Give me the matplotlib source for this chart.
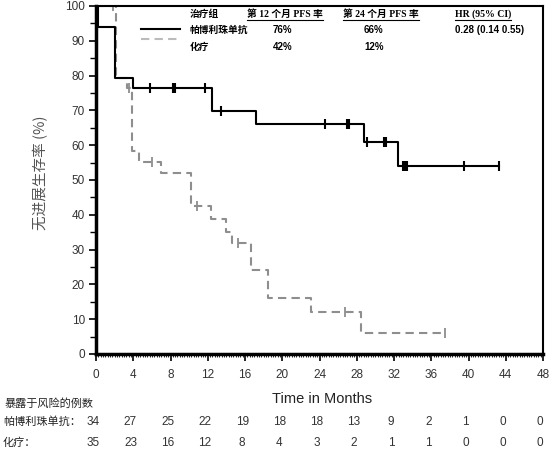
import numpy as np
import matplotlib
matplotlib.use('Agg')
import matplotlib.pyplot as plt

plt.rcParams['font.family'] = ['Liberation Sans', 'Noto Sans CJK SC']

# KM curves (months, PFS %)
pem_t = [0, 0.25, 2.0, 4.0, 12.5, 17.2, 28.8, 32.4, 43.3]
pem_s = [100, 94.1, 79.4, 76.5, 69.9, 66.0, 60.8, 54.1, 54.1]
pem_cens = [5.75, 8.3, 8.5, 11.7, 13.4, 24.6, 26.9, 27.2, 29.1, 30.9, 31.1,
            33.0, 33.2, 33.4, 39.5, 43.3]

chemo_t = [0, 2.15, 3.3, 3.9, 4.6, 7.0, 10.2, 12.3, 14.0, 14.6, 16.6, 18.5,
           23.1, 28.5, 37.5]
chemo_s = [100, 79.4, 76.3, 58.3, 55.3, 51.9, 42.4, 38.9, 35.2, 31.9, 24.0,
           16.0, 12.0, 6.0, 6.0]
chemo_cens = [1.8, 3.5, 6.0, 10.8, 15.3, 26.7, 37.5]

# number at risk
risk_times = [0, 4, 8, 12, 16, 20, 24, 28, 32, 36, 40, 44, 48]
risk_pem = [34, 27, 25, 22, 19, 18, 18, 13, 9, 2, 1, 0, 0]
risk_chemo = [35, 23, 16, 12, 8, 4, 3, 2, 1, 1, 0, 0, 0]

# summary table
groups = ['帕博利珠单抗', '化疗']
pfs12 = ['76%', '42%']
pfs24 = ['66%', '12%']
hr = ['0.28 (0.14 0.55)', '']


def step_at(t, times, surv):
    i = np.searchsorted(times, t, side='right') - 1
    return surv[i]


fig = plt.figure(figsize=(5.54, 4.51), dpi=100)
ax = fig.add_axes([96 / 554, 1 - 354 / 451, 447 / 554, 348 / 451])

gray = '#8e8e8e'
ax.plot(pem_t, pem_s, drawstyle='steps-post', color='black', lw=1.5, zorder=3)
ax.plot(pem_cens, [step_at(c, pem_t, pem_s) for c in pem_cens], ls='none',
        marker='|', ms=7, mew=1.5, color='black', zorder=4)
ax.plot(chemo_t, chemo_s, drawstyle='steps-post', color=gray, lw=1.5,
        dashes=(4, 2.5), zorder=2)
ax.plot(chemo_cens, [step_at(c, chemo_t, chemo_s) for c in chemo_cens],
        ls='none', marker='|', ms=7, mew=1.3, color=gray, zorder=2)

ax.set_xlim(0, 48)
ax.set_ylim(0, 100)
ax.set_xticks(risk_times)
ax.set_xticks(np.arange(0, 48.01, 0.25), minor=True)
ax.set_yticks(np.arange(0, 101, 10))
ax.set_yticks(np.arange(0, 101, 5), minor=True)
ax.tick_params(axis='both', which='major', length=5, width=1.2,
               labelsize=8.5, colors='black', labelcolor='#333333', pad=3)
ax.tick_params(axis='x', which='minor', length=2, width=0.6)
ax.tick_params(axis='y', which='minor', length=4, width=1.0)
ax.tick_params(axis='x', which='major', pad=6)
for side in ['left', 'bottom']:
    ax.spines[side].set_linewidth(2.5)
for side in ['top', 'right']:
    ax.spines[side].set_linewidth(1.5)

ax.set_ylabel('无进展生存率 (%)', fontsize=10.5, color='#555555',
              family=['Noto Sans CJK SC', 'DejaVu Sans'])
ax.yaxis.set_label_coords(-0.108, 0.52)
fig.text(322 / 554, 1 - 399 / 451, 'Time in Months', ha='center',
         va='center', fontsize=10.5, color='#222222')

# risk table
cjk = ['Noto Sans CJK SC']
fig.text(5 / 554, 1 - 404 / 451, '暴露于风险的例数', ha='left', va='center',
         fontsize=8, color='#222222', family=cjk)
fig.text(3 / 554, 1 - 422 / 451, '帕博利珠单抗：', ha='left', va='center',
         fontsize=8, color='#222222', family=cjk)
fig.text(3 / 554, 1 - 443 / 451, '化疗：', ha='left', va='center',
         fontsize=8, color='#222222', family=cjk)
for t, a, b in zip(risk_times, risk_pem, risk_chemo):
    ax.text(t - 0.3, -0.195, str(a), transform=ax.get_xaxis_transform(),
            ha='center', va='center', fontsize=8.5, color='#333333')
    ax.text(t - 0.3, -0.255, str(b), transform=ax.get_xaxis_transform(),
            ha='center', va='center', fontsize=8.5, color='#333333')

# summary table / legend
hdr_font = ['Liberation Serif', 'Noto Sans CJK SC']
cell_font = ['Liberation Sans', 'Noto Sans CJK SC']
fs = 7
hy = 1 - 14 / 451
headers = [(190, '治疗组', False), (247, '第 12 个月 PFS 率', True),
           (343, '第 24 个月 PFS 率', True), (455, 'HR (95% CI)', True)]
fig.canvas.draw()
for x, s, ul in headers:
    t = fig.text(x / 554, hy, s, fontsize=fs, fontweight='bold',
                 family=hdr_font, va='center', ha='left')
    if ul:
        bb = t.get_window_extent(renderer=fig.canvas.get_renderer())
        fig.add_artist(plt.Line2D([bb.x0 / 554, bb.x1 / 554],
                                  [(bb.y0 - 1) / 451, (bb.y0 - 1) / 451],
                                  color='black', lw=0.8))

row_y = [30, 47]
for y, g, a, b, h in zip(row_y, groups, pfs12, pfs24, hr):
    fy = 1 - y / 451
    fig.text(190 / 554, fy, g, fontsize=fs, fontweight='bold',
             family=cell_font, va='center')
    fig.text(273 / 554, fy, a, fontsize=fs, fontweight='bold',
             family=cell_font, va='center')
    fig.text(364 / 554, fy, b, fontsize=fs, fontweight='bold',
             family=cell_font, va='center')
    fig.text(455 / 554, fy, h, fontsize=fs, fontweight='bold',
             family=cell_font, va='center')

fig.add_artist(plt.Line2D([141 / 554, 180 / 554], [1 - 29 / 451, 1 - 29 / 451],
                          color='black', lw=1.5))
fig.add_artist(plt.Line2D([141 / 554, 180 / 554], [1 - 39 / 451, 1 - 39 / 451],
                          color='#bbbbbb', lw=1.5, dashes=(4, 2.5)))

fig.savefig('out.png', dpi=100)
